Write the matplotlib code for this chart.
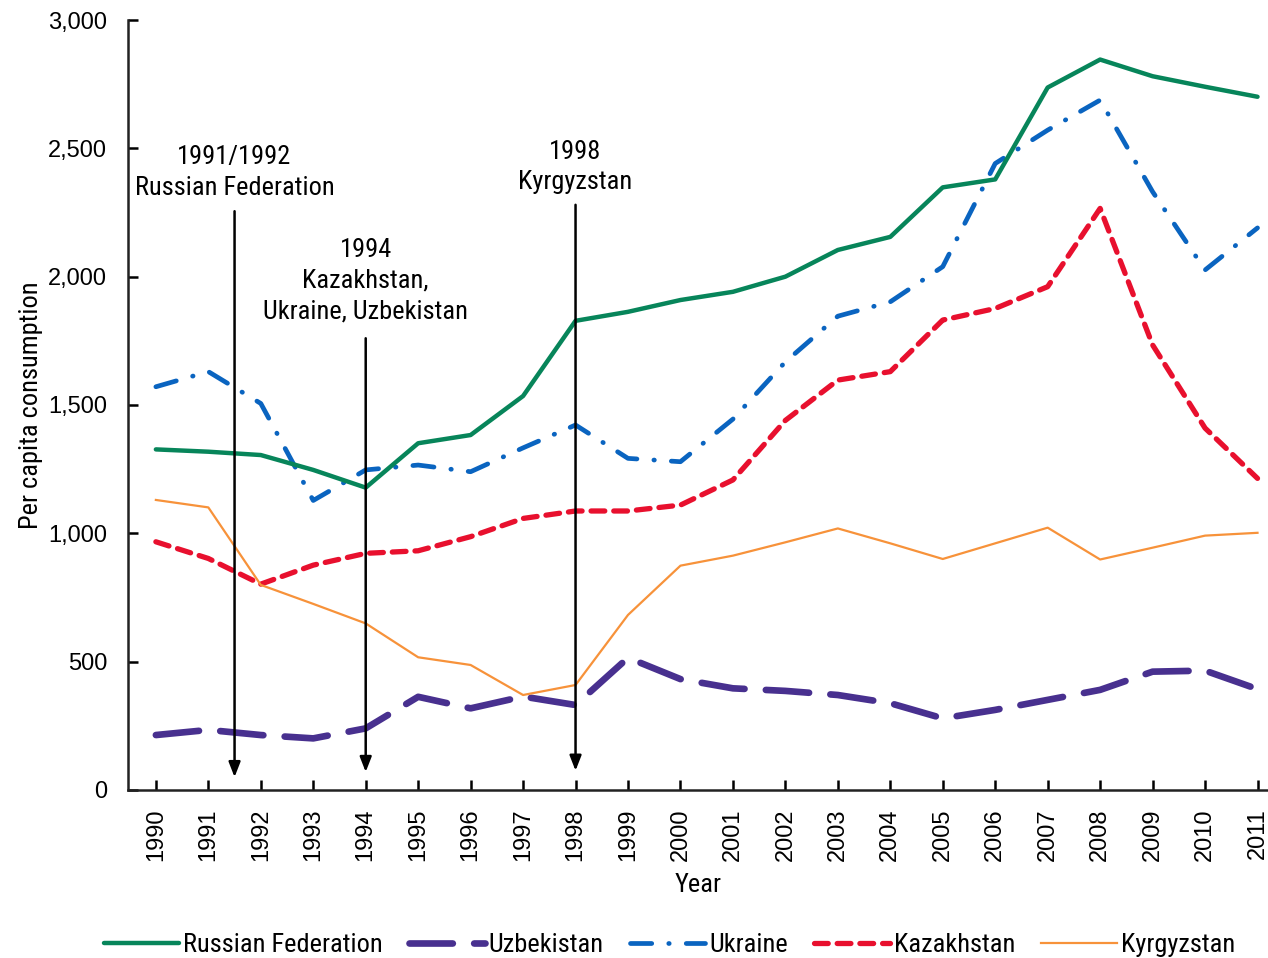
import matplotlib
matplotlib.use('Agg')
import matplotlib.pyplot as plt
import matplotlib.ticker as mticker
from matplotlib import font_manager

years = list(range(1990, 2012))

russia = [1327, 1318, 1305, 1247, 1178, 1351, 1383, 1535, 1828, 1863, 1909,
          1941, 2000, 2104, 2155, 2348, 2379, 2737, 2846, 2781, 2740, 2701]
uzbekistan = [214, 234, 214, 201, 240, 363, 318, 364, 331, 515, 432,
              396, 386, 370, 338, 279, 312, 351, 390, 461, 465, 393]
ukraine = [1571, 1630, 1506, 1128, 1247, 1266, 1240, 1333, 1422, 1292, 1279,
           1445, 1668, 1846, 1902, 2039, 2441, 2571, 2688, 2331, 2026, 2190]
kazakhstan = [967, 902, 802, 876, 922, 932, 987, 1058, 1087, 1087, 1110,
              1208, 1440, 1597, 1630, 1831, 1876, 1961, 2266, 1734, 1410, 1214]
kyrgyzstan = [1130, 1101, 799, 725, 649, 517, 487, 370, 409, 682, 874,
              913, 965, 1019, 961, 900, 961, 1022, 898, 944, 991, 1002]

# arrows: (x position, label, text baseline, arrow top, arrow bottom)
events = [
    (1991.5, '1991/1992\nRussian Federation', 2318, 2255, 50),
    (1994, '1994\nKazakhstan,\nUkraine, Uzbekistan', 1838, 1760, 70),
    (1998, '1998\nKyrgyzstan', 2340, 2280, 75),
]


def has_font(name):
    try:
        font_manager.findfont(name, fallback_to_default=False)
        return True
    except ValueError:
        return False


# the original uses a condensed face for labels
narrow = None
for name in ['Liberation Sans Narrow', 'Roboto Condensed', 'Open Sans Condensed']:
    if has_font(name):
        narrow = name
        break
if narrow:
    nfam, nsize = [narrow, 'DejaVu Sans'], 19
else:
    nfam, nsize = ['Liberation Sans', 'DejaVu Sans'], 16.3

plt.rcParams['font.family'] = ['Liberation Sans', 'DejaVu Sans']

fig = plt.figure(figsize=(12.68, 9.58), dpi=100)
ax = fig.add_axes([0.101, 0.1754, 0.899, 0.8037])

ax.plot(years, russia, color='#07855A', lw=3.2, label='Russian Federation',
        solid_capstyle='round', zorder=5)
ax.plot(years, uzbekistan, color='#48308F', lw=4.8, label='Uzbekistan',
        linestyle=(0, (6.5, 3.2)), dash_capstyle='round', zorder=4)
ax.plot(years, ukraine, color='#0A64C0', lw=3.4, label='Ukraine',
        linestyle=(0, (4.5, 3.6, 0.1, 3.6)), dash_capstyle='round', zorder=4)
ax.plot(years, kazakhstan, color='#E8102E', lw=3.8, label='Kazakhstan',
        linestyle=(0, (2.6, 1.7)), dash_capstyle='round', zorder=4)
ax.plot(years, kyrgyzstan, color='#F7923A', lw=1.6, label='Kyrgyzstan', zorder=4)

for x, label, ty, top, bottom in events:
    ax.annotate('', xy=(x, bottom), xytext=(x, top),
                arrowprops=dict(arrowstyle='-|>,head_length=0.9,head_width=0.35',
                                color='black', lw=1.8, shrinkA=0, shrinkB=0),
                zorder=6)
    ax.text(x, ty, label, ha='center', va='baseline', fontsize=nsize,
            family=nfam, linespacing=1.35, multialignment='center')

ax.set_xlim(1989.47, 2011.2)
ax.set_ylim(0, 3000)
ax.set_xticks(years)
ax.set_xticklabels([str(y) for y in years], rotation=90)
ax.yaxis.set_major_locator(mticker.MultipleLocator(500))
ax.yaxis.set_major_formatter(mticker.StrMethodFormatter('{x:,.0f}'))

for s in ['top', 'right']:
    ax.spines[s].set_visible(False)
for s in ['left', 'bottom']:
    ax.spines[s].set_linewidth(1.8)
    ax.spines[s].set_color('#222222')

ax.tick_params(axis='y', direction='in', length=7, width=1.8, labelsize=17, pad=15)
ax.tick_params(axis='x', direction='in', length=7, width=1.8, labelsize=17, pad=13)

ax.set_xlabel('Year', fontsize=nsize, family=nfam, labelpad=9)
ax.set_ylabel('Per capita consumption', fontsize=nsize, family=nfam, labelpad=4)

fig.legend(loc='lower center', bbox_to_anchor=(0.528, -0.024), ncol=5,
           frameon=False, handlelength=2.85, handletextpad=0.15,
           columnspacing=1.0, prop={'family': nfam, 'size': nsize})

fig.savefig('out.png', dpi=100)
